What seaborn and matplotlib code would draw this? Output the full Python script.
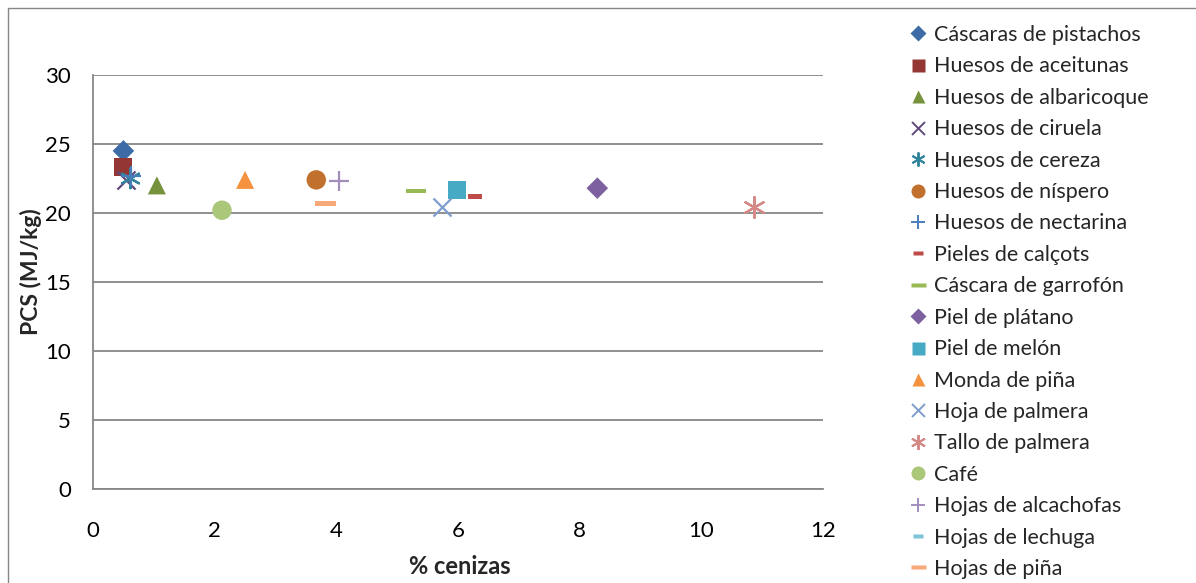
import matplotlib
matplotlib.use("Agg")
import matplotlib.pyplot as plt
from matplotlib.lines import Line2D
from matplotlib.patches import Rectangle
import seaborn as sns
import pandas as pd

sns.set_theme(style="white")
plt.rcParams["font.family"] = ["Lato", "DejaVu Sans"]

# Residuos: % cenizas frente a poder calorífico superior
names = [
    "Cáscaras de pistachos", "Huesos de aceitunas", "Huesos de albaricoque",
    "Huesos de ciruela", "Huesos de cereza", "Huesos de níspero",
    "Huesos de nectarina", "Pieles de calçots", "Cáscara de garrofón",
    "Piel de plátano", "Piel de melón", "Monda de piña", "Hoja de palmera",
    "Tallo de palmera", "Café", "Hojas de alcachofas", "Hojas de lechuga",
    "Hojas de piña",
]
cenizas = [0.50, 0.49, 1.05, 0.55, 0.60, 3.67, 0.62, 6.28, 5.31,
           8.29, 5.99, 2.50, 5.74, 10.86, 2.12, 4.05, 3.82, 3.82]
pcs = [24.5, 23.3, 22.0, 22.4, 22.5, 22.4, 22.7, 21.2, 21.6,
       21.8, 21.7, 22.4, 20.4, 20.4, 20.2, 22.3, 20.7, 20.7]
x_ticks = [0, 2, 4, 6, 8, 10, 12]
y_ticks = [0, 5, 10, 15, 20, 25, 30]

# marker styles
dash_long = [(-1, -0.22), (1, -0.22), (1, 0.22), (-1, 0.22), (-1, -0.22)]
dash_short = [(-1, -0.4), (1, -0.4), (1, 0.4), (-1, 0.4), (-1, -0.4)]
star = (6, 2, 0)
markers = ["D", "s", "^", "x", star, "o", "+", dash_short, dash_long,
           "D", "s", "^", "x", star, "o", "+", dash_short, dash_long]
colors = ["#3D6BA5", "#943634", "#76923C", "#604A7B", "#31849B", "#C2702D",
          "#4A7EBB", "#BE4B48", "#98B954", "#7D60A0", "#46AAC5", "#F59240",
          "#7D9ECD", "#D48986", "#AAC77A", "#A28EBD", "#7EC3D7", "#F8A97A"]
sizes = [11, 13, 13, 13, 14, 14, 14, 10, 15, 11, 13, 13, 13, 15, 14, 14, 10, 15]
line_markers = {"x", "+"}

df = pd.DataFrame({"residuo": names, "cenizas": cenizas, "pcs": pcs})

fig = plt.figure(figsize=(11.96, 5.83), dpi=100)
ax = fig.add_axes([93 / 1196, 1 - 489 / 583, (823 - 93) / 1196, (489 - 75) / 583])

for i, name in enumerate(names):
    sub = df[df["residuo"] == name]
    m = markers[i]
    is_line = (m in line_markers) if isinstance(m, str) else (m == star)
    if is_line:
        sns.scatterplot(data=sub, x="cenizas", y="pcs", ax=ax, marker=m,
                        s=sizes[i] ** 2, color=colors[i], linewidth=1.6,
                        legend=False, zorder=3 + i)
    else:
        sns.scatterplot(data=sub, x="cenizas", y="pcs", ax=ax, marker=m,
                        s=sizes[i] ** 2, color=colors[i], edgecolor="none",
                        linewidth=0, legend=False, zorder=3 + i)

ax.set_xlim(0, 12)
ax.set_ylim(0, 30)
ax.set_xticks(x_ticks)
ax.set_yticks(y_ticks)
ax.set_xticklabels([str(v) for v in x_ticks])
ax.set_yticklabels([str(v) for v in y_ticks])
ax.tick_params(axis="x", length=0, pad=23, labelsize=16, labelcolor="#000000")
ax.tick_params(axis="y", length=0, pad=16, labelsize=16, labelcolor="#000000")
ax.yaxis.grid(True, color="#878787", linewidth=1.3)
ax.xaxis.grid(False)
ax.set_axisbelow(True)
for side in ["top", "right"]:
    ax.spines[side].set_visible(False)
for side in ["left", "bottom"]:
    ax.spines[side].set_color("#878787")
    ax.spines[side].set_linewidth(1.3)

ax.set_xlabel("")
ax.set_ylabel("")
fig.text(460 / 1196, 1 - 567 / 583, "% cenizas", ha="center", va="center",
         fontsize=17, fontweight="bold")
fig.text(31 / 1196, 1 - 272 / 583, "PCS (MJ/kg)", ha="center", va="center",
         rotation=90, fontsize=16.5, fontweight="bold")

# legend
handles = []
for i, name in enumerate(names):
    m = markers[i]
    is_line = (m in line_markers) if isinstance(m, str) else (m == star)
    ms = sizes[i] * 0.72
    if is_line:
        h = Line2D([], [], linestyle="none", marker=m, markersize=ms,
                   color=colors[i], markeredgewidth=1.4)
    else:
        h = Line2D([], [], linestyle="none", marker=m, markersize=ms,
                   markerfacecolor=colors[i], markeredgecolor="none")
    handles.append(h)
fig.legend(handles, names, loc="upper left",
           bbox_to_anchor=(909 / 1196, 1 - 25 / 583), frameon=False,
           fontsize=15.5, handlelength=0.8, handletextpad=0.35,
           labelspacing=0.53, borderpad=0, borderaxespad=0)

# outer chart border
fig.add_artist(Rectangle((8 / 1196, -0.02), 1.05, 1 - 8 / 583 + 0.02,
                         transform=fig.transFigure, fill=False,
                         edgecolor="#868686", linewidth=1.0))

fig.savefig("out.png", dpi=100)
